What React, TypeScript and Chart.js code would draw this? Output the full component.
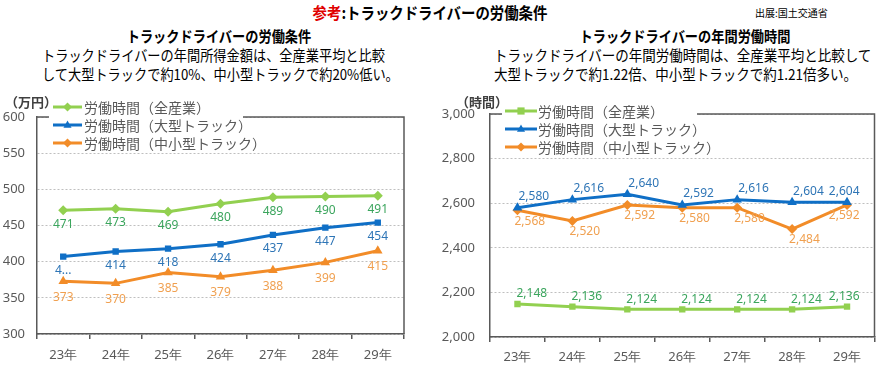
import React, { useEffect, useRef } from "react";
import { Chart, registerables } from "chart.js";

Chart.register(...registerables);

const categories = ["23年", "24年", "25年", "26年", "27年", "28年", "29年"];
const seriesNames = ["労働時間（全産業）", "労働時間（大型トラック）", "労働時間（中小型トラック）"];

// Left chart: annual income (万円)
const incomeAll = [471, 473, 469, 480, 489, 490, 491];
const incomeLarge = [407, 414, 418, 424, 437, 447, 454];
const incomeSmall = [373, 370, 385, 379, 388, 399, 415];
const incomeLargeFirstLabel = "4...";
const incomeAxis = { min: 300, max: 600, step: 50 };

// Right chart: annual working hours (時間)
const hoursAll = [2148, 2136, 2124, 2124, 2124, 2124, 2136];
const hoursLarge = [2580, 2616, 2640, 2592, 2616, 2604, 2604];
const hoursSmall = [2568, 2520, 2592, 2580, 2580, 2484, 2592];
const hoursAxis = { min: 2000, max: 3000, step: 200 };

const GREEN = "#92D050";
const GREEN_TXT = "#3BA55D";
const BLUE = "#0F6FC6";
const BLUE_TXT = "#2E75B6";
const ORANGE = "#F28C28";
const ORANGE_TXT = "#F0A050";
const AXIS = "#595959";
const TICK_TXT = "#595959";
const CJK = '"Noto Sans CJK JP", sans-serif';
const NUM = '"Noto Sans", sans-serif';

const fmt = (v: number) => v.toLocaleString("en-US");

function drawMarker(ctx: CanvasRenderingContext2D, style: string, x: number, y: number, r: number, color: string) {
  ctx.save();
  ctx.fillStyle = color;
  ctx.beginPath();
  if (style === "rectRot") {
    ctx.moveTo(x, y - r);
    ctx.lineTo(x + r, y);
    ctx.lineTo(x, y + r);
    ctx.lineTo(x - r, y);
  } else if (style === "triangle") {
    ctx.moveTo(x, y - r);
    ctx.lineTo(x + r * 0.9, y + r * 0.6);
    ctx.lineTo(x - r * 0.9, y + r * 0.6);
  } else {
    ctx.rect(x - r * 0.8, y - r * 0.8, r * 1.6, r * 1.6);
  }
  ctx.closePath();
  ctx.fill();
  ctx.restore();
}

const boxPlugin = {
  id: "plotBox",
  beforeDatasetsDraw(chart: any) {
    const { ctx, chartArea: a } = chart;
    ctx.save();
    ctx.strokeStyle = AXIS;
    ctx.lineWidth = 1.5;
    ctx.beginPath();
    ctx.moveTo(a.left, a.top);
    ctx.lineTo(a.right, a.top);
    ctx.lineTo(a.right, a.bottom);
    ctx.stroke();
    ctx.restore();
  },
};

const labelPlugin = {
  id: "valueLabels",
  afterDatasetsDraw(chart: any) {
    const ctx = chart.ctx;
    const area = chart.chartArea;
    chart.data.datasets.forEach((ds: any, di: number) => {
      const cfg = ds.labelCfg;
      if (!cfg) return;
      const meta = chart.getDatasetMeta(di);
      meta.data.forEach((pt: any, i: number) => {
        const text = cfg.format(ds.data[i], i);
        ctx.save();
        ctx.font = `12px ${NUM}`;
        ctx.fillStyle = cfg.color;
        ctx.textAlign = cfg.align;
        ctx.textBaseline = "middle";
        let x = pt.x + cfg.dx;
        if (cfg.align === "left") {
          const w = ctx.measureText(text).width;
          const limit = area.right - (cfg.rightGap || 0);
          if (x + w > limit) x = limit - w;
        }
        ctx.fillText(text, x, pt.y + cfg.dy);
        ctx.restore();
      });
    });
  },
};

const legendPlugin = {
  id: "boxLegend",
  afterDraw(chart: any, _args: any, opts: any) {
    const ctx = chart.ctx;
    ctx.save();
    ctx.fillStyle = "#ffffff";
    ctx.fillRect(opts.x, opts.y, opts.w, opts.h);
    opts.items.forEach((it: any, i: number) => {
      const y = opts.rowY + i * opts.rowGap;
      ctx.strokeStyle = it.color;
      ctx.lineWidth = 3;
      ctx.beginPath();
      ctx.moveTo(opts.lineX1, y);
      ctx.lineTo(opts.lineX2, y);
      ctx.stroke();
      drawMarker(ctx, it.pointStyle, (opts.lineX1 + opts.lineX2) / 2, y, 4.5, it.color);
      ctx.fillStyle = TICK_TXT;
      ctx.font = `14px ${CJK}`;
      ctx.textAlign = "left";
      ctx.textBaseline = "middle";
      ctx.fillText(it.label, opts.textX, y + 1);
    });
    ctx.restore();
  },
};

function makeConfig(p: any) {
  return {
    type: "line",
    data: {
      labels: categories,
      datasets: p.datasets.map((d: any) => ({
        label: d.label,
        data: d.data,
        borderColor: d.color,
        backgroundColor: d.color,
        borderWidth: 3,
        pointStyle: d.pointStyle,
        pointRadius: d.pointRadius,
        pointBorderWidth: 0,
        tension: 0,
        labelCfg: d.labelCfg,
      })),
    },
    options: {
      responsive: false,
      animation: false,
      events: [],
      layout: { padding: p.padding },
      plugins: {
        legend: { display: false },
        tooltip: { enabled: false },
        boxLegend: p.legend,
      },
      scales: {
        x: {
          offset: true,
          grid: { display: true, drawOnChartArea: false, drawTicks: true, tickLength: 5, offset: true, color: AXIS, lineWidth: 1.5 },
          border: { display: true, color: AXIS, width: 1.5 },
          ticks: { color: TICK_TXT, font: { family: NUM, size: 13 }, padding: p.xPad, maxRotation: 0 },
          afterFit: (s: any) => { s.height = p.xHeight; },
        },
        y: {
          min: p.axis.min,
          max: p.axis.max,
          grid: { color: "#BFBFBF", lineWidth: 1, drawTicks: false },
          border: { display: true, color: AXIS, width: 1.5, dash: [2, 2] },
          ticks: {
            stepSize: p.axis.step,
            color: TICK_TXT,
            font: { family: NUM, size: 13 },
            padding: p.yPad,
            callback: (v: any) => fmt(Number(v)),
          },
          afterFit: (s: any) => { s.width = p.yWidth; },
        },
      },
    },
    plugins: [boxPlugin, labelPlugin, legendPlugin],
  };
}

function LineChart({ config, left, top, width, height }: any) {
  const ref = useRef<HTMLCanvasElement>(null);
  useEffect(() => {
    if (!ref.current) return;
    const chart = new Chart(ref.current, config);
    return () => chart.destroy();
  }, []);
  return (
    <canvas
      ref={ref}
      width={width}
      height={height}
      style={{ position: "absolute", left, top, width, height }}
    />
  );
}

const leftConfig = makeConfig({
  axis: incomeAxis,
  padding: { left: 0, right: 36, top: 32, bottom: 0 },
  yWidth: 37,
  xHeight: 31,
  yPad: 12,
  xPad: 8,
  legend: {
    x: 49, y: 8, w: 194, h: 58, rowY: 22, rowGap: 18, lineX1: 53, lineX2: 82, textX: 84,
    items: [
      { label: seriesNames[0], color: GREEN, pointStyle: "rectRot" },
      { label: seriesNames[1], color: BLUE, pointStyle: "triangle" },
      { label: seriesNames[2], color: ORANGE, pointStyle: "rectRot" },
    ],
  },
  datasets: [
    { label: seriesNames[0], data: incomeAll, color: GREEN, pointStyle: "rectRot", pointRadius: 5,
      labelCfg: { color: GREEN_TXT, align: "center", dx: 0, dy: 14, format: (v: number) => fmt(v) } },
    { label: seriesNames[1], data: incomeLarge, color: BLUE, pointStyle: "rect", pointRadius: 4.5,
      labelCfg: { color: BLUE_TXT, align: "center", dx: 0, dy: 14, format: (v: number, i: number) => (i === 0 ? incomeLargeFirstLabel : fmt(v)) } },
    { label: seriesNames[2], data: incomeSmall, color: ORANGE, pointStyle: "triangle", pointRadius: 5.5,
      labelCfg: { color: ORANGE_TXT, align: "center", dx: 0, dy: 16, format: (v: number) => fmt(v) } },
  ],
});

const rightConfig = makeConfig({
  axis: hoursAxis,
  padding: { left: 0, right: 2, top: 29, bottom: 0 },
  yWidth: 50,
  xHeight: 28,
  yPad: 15,
  xPad: 7,
  legend: {
    x: 62, y: 10, w: 195, h: 60, rowY: 26, rowGap: 18, lineX1: 65, lineX2: 97, textX: 98,
    items: [
      { label: seriesNames[0], color: GREEN, pointStyle: "rect" },
      { label: seriesNames[1], color: BLUE, pointStyle: "triangle" },
      { label: seriesNames[2], color: ORANGE, pointStyle: "rectRot" },
    ],
  },
  datasets: [
    { label: seriesNames[0], data: hoursAll, color: GREEN, pointStyle: "rect", pointRadius: 4.5,
      labelCfg: { color: GREEN_TXT, align: "left", dx: -1, dy: -10, rightGap: 15, format: (v: number) => fmt(v) } },
    { label: seriesNames[1], data: hoursLarge, color: BLUE, pointStyle: "triangle", pointRadius: 5.5,
      labelCfg: { color: BLUE_TXT, align: "left", dx: 1, dy: -11, rightGap: 15, format: (v: number) => fmt(v) } },
    { label: seriesNames[2], data: hoursSmall, color: ORANGE, pointStyle: "rectRot", pointRadius: 5,
      labelCfg: { color: ORANGE_TXT, align: "left", dx: -3, dy: 11, rightGap: 15, format: (v: number) => fmt(v) } },
  ],
});

const abs = (o: any): React.CSSProperties => ({ position: "absolute", whiteSpace: "nowrap", fontFamily: CJK, color: "#000", ...o });

export default function App() {
  return (
    <div style={{ position: "absolute", left: 0, top: 0, width: 880, height: 365, background: "#fff", overflow: "hidden" }}>
      <LineChart config={leftConfig} left={0} top={85} width={440} height={280} />
      <LineChart config={rightConfig} left={440} top={85} width={440} height={280} />

      <div style={abs({ left: 230, top: 2, width: 400, textAlign: "center", fontSize: 16, lineHeight: "20px", fontWeight: "bold", transform: "scaleX(0.9)" })}>
        <span style={{ color: "#E00000" }}>参考</span>:トラックドライバーの労働条件
      </div>
      <div style={abs({ left: 755, top: 5, fontSize: 10, lineHeight: "16px" })}>出展:国土交通省</div>

      <div style={abs({ left: 69, top: 26, width: 300, textAlign: "center", fontSize: 15, lineHeight: "20px", fontWeight: "bold", transform: "scaleX(0.88)" })}>
        トラックドライバーの労働条件
      </div>
      <div style={abs({ left: 535, top: 26, width: 300, textAlign: "center", fontSize: 15, lineHeight: "20px", fontWeight: "bold", transform: "scaleX(0.88)" })}>
        トラックドライバーの年間労働時間
      </div>

      <div style={abs({ left: 42, top: 45, fontSize: 15, lineHeight: "19px", transform: "scaleX(0.88)", transformOrigin: "left center" })}>
        トラックドライバーの年間所得金額は、全産業平均と比較
        <br />
        して大型トラックで約10%、中小型トラックで約20%低い。
      </div>
      <div style={abs({ left: 494, top: 45, fontSize: 15, lineHeight: "19px", transform: "scaleX(0.9)", transformOrigin: "left center" })}>
        トラックドライバーの年間労働時間は、全産業平均と比較して
        <br />
        大型トラックで約1.22倍、中小型トラックで約1.21倍多い。
      </div>

      <div style={abs({ left: 5, top: 93, fontSize: 13, lineHeight: "18px", fontWeight: "bold", color: "#404040" })}>（万円）</div>
      <div style={abs({ left: 456, top: 93, fontSize: 13, lineHeight: "18px", fontWeight: "bold", color: "#404040" })}>（時間）</div>
    </div>
  );
}
